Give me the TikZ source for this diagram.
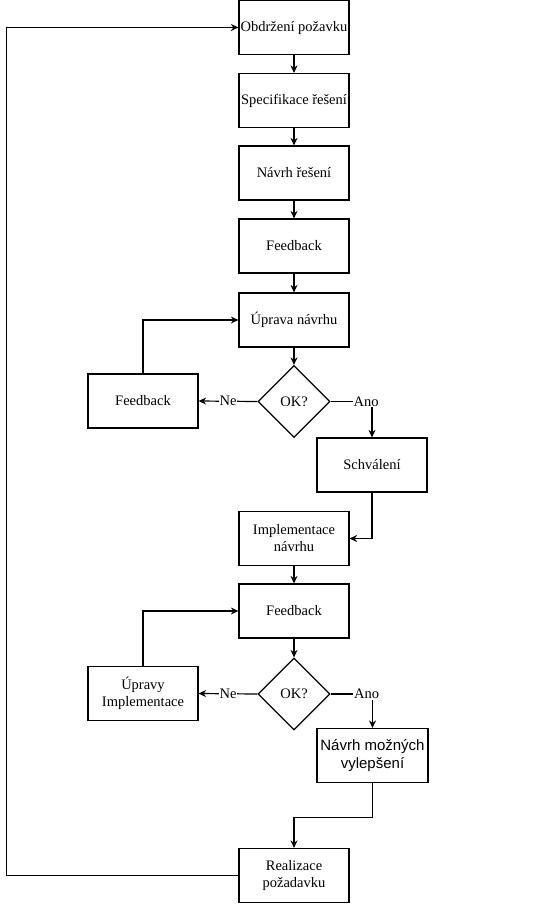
\documentclass[tikz,border=0pt]{standalone}
\usepackage{fontspec}
\setmainfont{Liberation Serif}
\newfontfamily\sansf{Liberation Sans}
\usetikzlibrary{shapes.geometric,arrows.meta}
\begin{document}
\begin{tikzpicture}[x=1pt,y=-1pt,
  every node/.style={font=\fontsize{14.5}{17}\selectfont},
  box/.style={draw, line width=1.2pt, rectangle, minimum width=110pt, minimum height=54pt, inner sep=1pt, align=center},
  dia/.style={draw, line width=1.2pt, diamond, minimum width=72pt, minimum height=72pt, inner sep=0pt},
  arr/.style={line width=1.2pt, -{Stealth[length=7.5pt,width=7pt]}},
  lbl/.style={fill=white, inner sep=1pt}]
\useasboundingbox (0,0) rectangle (555,905);
\node[box] (b1) at (294,27.5) {Obdržení požavku};
\node[box] (b2) at (294,100.5) {Specifikace řešení};
\node[box] (b3) at (294,173) {Návrh řešení};
\node[box] (b4) at (294,246) {Feedback};
\node[box] (b5) at (294,320) {Úprava návrhu};
\node[dia] (d1) at (294,401.5) {OK?};
\node[box] (fb1) at (143,401) {Feedback};
\node[box] (schv) at (372,465) {Schválení};
\node[box] (impl) at (294,538.5) {Implementace\\návrhu};
\node[box] (fb2) at (294,611) {Feedback};
\node[dia] (d2) at (294,694) {OK?};
\node[box] (upr) at (143,693.5) {Úpravy\\Implementace};
\node[box, minimum width=111pt, font=\sansf\fontsize{15}{18}\selectfont] (navrh) at (372.5,755.5) {Návrh možných\\vylepšení};
\node[box] (real) at (294,875.5) {Realizace\\požadavku};

\draw[arr] (b1) -- (b2);
\draw[arr] (b2) -- (b3);
\draw[arr] (b3) -- (b4);
\draw[arr] (b4) -- (b5);
\draw[arr] (b5) -- (d1);
\draw[arr] (d1.west) -- node[lbl] {Ne} (fb1.east);
\draw[arr] (fb1.north) |- (b5.west);
\draw[arr] (d1.east) -| node[lbl, pos=0.43] {Ano} (schv.north);
\draw[arr] (schv.south) |- (impl.east);
\draw[arr] (impl) -- (fb2);
\draw[arr] (fb2) -- (d2);
\draw[arr] (d2.west) -- node[lbl] {Ne} (upr.east);
\draw[arr] (upr.north) |- (fb2.west);
\draw[arr] (d2.east) -| node[lbl, pos=0.43] {Ano} (navrh.north);
\draw[arr] (navrh.south) -- ++(0,34) -| (real.north);
\draw[arr] (real.west) -- ++(-232,0) |- (b1.west);
\end{tikzpicture}
\end{document}
